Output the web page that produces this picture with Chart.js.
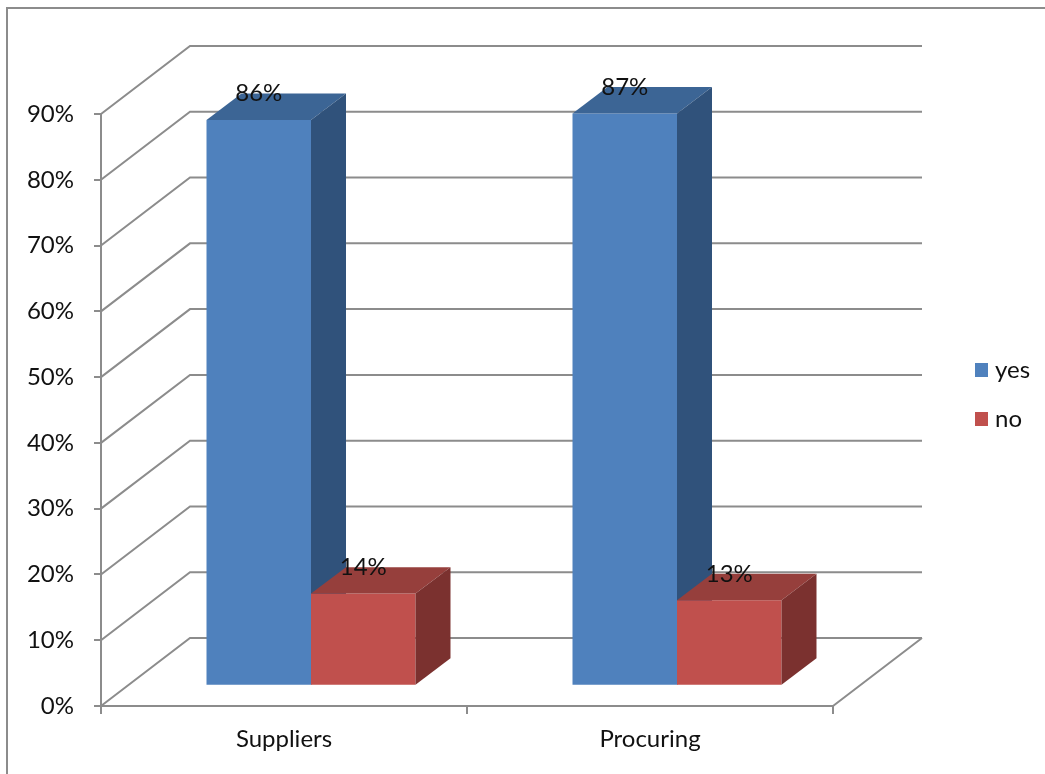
<!DOCTYPE html>
<html>
<head>
<meta charset="utf-8">
<script src="https://cdn.jsdelivr.net/npm/chart.js@4.4.1/dist/chart.umd.min.js"></script>
<style>
  html, body { margin: 0; padding: 0; background: #fff; }
  #grafico { display: block; }
</style>
</head>
<body>
<canvas id="grafico" width="1045" height="774"></canvas>
<script>
// dados do grafico
const categorias = ['Suppliers', 'Procuring'];
const serieYes = [86, 87];
const serieNo = [14, 13];
const nomesSeries = ['yes', 'no'];
const ticksY = [0, 10, 20, 30, 40, 50, 60, 70, 80, 90];

// cores (frente, topo, lado)
const coresYes = ['#4f81bd', '#3c6595', '#30527b'];
const coresNo = ['#c0504d', '#963f3c', '#7b312f'];

// deslocamentos da perspectiva
const parede = { dx: 89, dy: -68 };
const planoBarra = { dx: 27, dy: -20.3 };
const profBarra = { dx: 35, dy: -26.4 };

const corGrade = '#8c8c8c';
const fonte = { family: 'Lato', size: 24 };
const corTexto = '#111111';

// desenha a moldura, paredes e chao
function desenharParedes(chart) {
    const ctx = chart.ctx;
    const escalaY = chart.scales.y;
    const { left, right } = chart.chartArea;
    ctx.save();
    ctx.strokeStyle = corGrade;
    ctx.lineWidth = 2;
    // moldura externa
    ctx.beginPath();
    ctx.moveTo(7, 774);
    ctx.lineTo(7, 8);
    ctx.lineTo(1045, 8);
    ctx.stroke();
    ctx.beginPath();
    ticksY.forEach(v => {
        const py = escalaY.getPixelForValue(v);
        ctx.moveTo(left, py);
        ctx.lineTo(left + parede.dx, py + parede.dy);
        ctx.lineTo(right + parede.dx, py + parede.dy);
    });
    const y0 = escalaY.getPixelForValue(0);
    ctx.moveTo(right + parede.dx, y0 + parede.dy);
    ctx.lineTo(right, y0);
    ctx.stroke();
    ctx.restore();
}

// frente (elemento do chart.js), topo e lado de cada barra
function desenharBarras(chart, indice) {
    const ctx = chart.ctx;
    const cores = chart.data.datasets[indice].cores3d;
    const { dx, dy } = profBarra;
    ctx.save();
    ctx.translate(planoBarra.dx, planoBarra.dy);
    chart.getDatasetMeta(indice).data.forEach(barra => {
        barra.draw(ctx);
        const { x, y, base, width } = barra.getProps(['x', 'y', 'base', 'width'], true);
        const l = x - width / 2;
        const r = x + width / 2;
        ctx.fillStyle = cores[1];
        ctx.beginPath();
        ctx.moveTo(l, y);
        ctx.lineTo(l + dx, y + dy);
        ctx.lineTo(r + dx, y + dy);
        ctx.lineTo(r, y);
        ctx.closePath();
        ctx.fill();
        ctx.fillStyle = cores[2];
        ctx.beginPath();
        ctx.moveTo(r, y);
        ctx.lineTo(r + dx, y + dy);
        ctx.lineTo(r + dx, base + dy);
        ctx.lineTo(r, base);
        ctx.closePath();
        ctx.fill();
    });
    ctx.restore();
}

const plugin3d = {
    id: 'efeito3d',
    beforeDatasetsDraw(chart) {
        desenharParedes(chart);
    },
    // o desenho padrao e trocado pelo desenho em 3d
    beforeDatasetDraw() {
        return false;
    },
    afterDatasetsDraw(chart) {
        chart.data.datasets.forEach((ds, i) => desenharBarras(chart, i));
        // rotulos de valor
        const ctx = chart.ctx;
        ctx.save();
        ctx.font = `${fonte.size}px ${fonte.family}`;
        ctx.fillStyle = corTexto;
        ctx.textAlign = 'center';
        ctx.textBaseline = 'middle';
        chart.data.datasets.forEach((ds, i) => {
            chart.getDatasetMeta(i).data.forEach((barra, j) => {
                const px = barra.x + planoBarra.dx;
                const py = barra.y + planoBarra.dy + profBarra.dy;
                ctx.fillText(ds.data[j] + '%', px, py);
            });
        });
        ctx.restore();
    },
    afterDraw(chart) {
        // legenda
        const ctx = chart.ctx;
        ctx.save();
        ctx.font = `${fonte.size}px ${fonte.family}`;
        ctx.textBaseline = 'middle';
        chart.data.datasets.forEach((ds, i) => {
            const cy = 370 + i * 49;
            ctx.fillStyle = ds.backgroundColor;
            ctx.fillRect(975, cy - 7, 13, 14);
            ctx.fillStyle = corTexto;
            ctx.fillText(ds.label, 995, cy);
        });
        ctx.restore();
    }
};

const contexto = document.getElementById('grafico').getContext('2d');
new Chart(contexto, {
    type: 'bar',
    data: {
        labels: categorias,
        datasets: [
            { label: nomesSeries[0], data: serieYes, backgroundColor: coresYes[0], cores3d: coresYes },
            { label: nomesSeries[1], data: serieNo, backgroundColor: coresNo[0], cores3d: coresNo }
        ]
    },
    options: {
        responsive: false,
        animation: false,
        devicePixelRatio: 1,
        categoryPercentage: 0.571,
        barPercentage: 1,
        layout: { padding: { top: 114, right: 212, bottom: 0, left: 0 } },
        plugins: {
            legend: { display: false },
            tooltip: { enabled: false }
        },
        scales: {
            x: {
                afterFit: s => { s.height = 68; },
                grid: { drawOnChartArea: false, tickLength: 8, color: corGrade, lineWidth: 2 },
                border: { display: true, color: corGrade, width: 2 },
                ticks: { font: fonte, color: corTexto, padding: 11 }
            },
            y: {
                min: 0,
                max: 90,
                afterFit: s => { s.width = 101; },
                afterBuildTicks: s => { s.ticks = ticksY.map(v => ({ value: v })); },
                grid: { drawOnChartArea: false, tickLength: 7, color: corGrade, lineWidth: 2 },
                border: { display: true, color: corGrade, width: 2 },
                ticks: { font: fonte, color: corTexto, padding: 20, callback: v => v + '%' }
            }
        }
    },
    plugins: [plugin3d]
});
</script>
</body>
</html>
